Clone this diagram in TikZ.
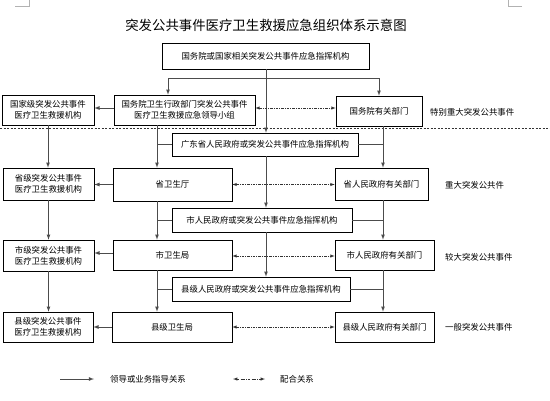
\documentclass[tikz,border=0pt]{standalone}
\usepackage{fontspec}
\setmainfont{Noto Sans CJK SC}
\usetikzlibrary{positioning}

\tikzset{
  box/.style={draw, line width=0.6pt, align=center, inner sep=1pt, font=\fontsize{8.4}{11}\selectfont},
  tag/.style={anchor=west, inner sep=0pt, font=\fontsize{8.4}{11}\selectfont},
  lead/.style={draw=black!70, line width=0.8pt},
  coop/.style={draw=black!80, line width=0.5pt, latex-latex, dash pattern=on 2.5pt off 1.2pt on 0.6pt off 1.2pt},
}

\begin{document}
\begin{tikzpicture}[x=1pt, y=-1pt]
        \useasboundingbox (0,0) rectangle (550,400);

        % page corner marks
        \draw[black!30, line width=0.6pt] (15,6) -- (29,6) -- (29,0);
        \draw[black!30, line width=0.6pt] (522,6) -- (508,6) -- (508,0);

        \node[font=\fontsize{13.4}{16}\selectfont] (title) at (266,25) {突发公共事件医疗卫生救援应急组织体系示意图};

        % national level
        \node[box, minimum width=207pt, minimum height=26pt] (A) at (265.5,56) {国务院或国家相关突发公共事件应急指挥机构};
        \node[box, minimum width=141pt, minimum height=30pt] (B) at (184.5,110) {国务院卫生行政部门突发公共事件\\医疗卫生救援应急领导小组};
        \node[box, minimum width=92pt, minimum height=30pt] (L1) at (48,110) {国家级突发公共事件\\医疗卫生救援机构};
        \node[box, minimum width=86pt, minimum height=30pt] (C) at (379,111) {国务院有关部门};
        \node[tag] (t1) at (430,112) {特别重大突发公共事件};

        \draw[black!80, line width=0.6pt, dash pattern=on 2pt off 1.5pt] (0,128) -- (550,128);

        % province level
        \node[box, minimum width=186pt, minimum height=23pt] (D) at (265,144.5) {广东省人民政府或突发公共事件应急指挥机构};
        \node[box, minimum width=91pt, minimum height=32pt] (L2) at (48.5,184) {省级突发公共事件\\医疗卫生救援机构};
        \node[box, minimum width=119pt, minimum height=33pt] (E) at (172.5,184.5) {省卫生厅};
        \node[box, minimum width=93pt, minimum height=32pt] (F) at (381.5,184) {省人民政府有关部门};
        \node[tag] (t2) at (445,185) {重大突发公共件};

        % city level
        \node[box, minimum width=180pt, minimum height=24pt] (G) at (262,220) {市人民政府或突发公共事件应急指挥机构};
        \node[box, minimum width=91pt, minimum height=31pt] (L3) at (48.5,255.5) {市级突发公共事件\\医疗卫生救援机构};
        \node[box, minimum width=119pt, minimum height=30pt] (H) at (172.5,255) {市卫生局};
        \node[box, minimum width=99pt, minimum height=30pt] (I) at (384.5,255) {市人民政府有关部门};
        \node[tag] (t3) at (445,257) {较大突发公共事件};

        % county level
        \node[box, minimum width=178pt, minimum height=24pt] (J) at (261,289) {县级人民政府或突发公共事件应急指挥机构};
        \node[box, minimum width=90pt, minimum height=30pt] (L4) at (48,327) {县级突发公共事件\\医疗卫生救援机构};
        \node[box, minimum width=120pt, minimum height=30pt] (K) at (172,327) {县级卫生局};
        \node[box, minimum width=99pt, minimum height=30pt] (M) at (384.5,327) {县级人民政府有关部门};
        \node[tag] (t4) at (445,327) {一般突发公共事件};

        % trunks
        \coordinate (bar) at (0,78);
        \coordinate (xm) at (266,0);
        \coordinate (xl) at (157,0);
        \coordinate (xr) at (383,0);

        \draw[lead, -latex] (A.south -| xm) -- (D.north -| xm);
        \draw[lead, -latex] (A.south |- bar) -| ([xshift=-16.5pt]B.north);
        \draw[lead, -latex] (A.south |- bar) -| (C.north);
        \draw[lead, -latex] (D.south -| xm) -- (G.north -| xm);
        \draw[lead, -latex] (G.south -| xm) -- (J.north -| xm);

        \draw[lead, -latex] (B.south -| xl) -- (E.north -| xl);
        \draw[lead, -latex] (E.south -| xl) -- (H.north -| xl);
        \draw[lead, -latex] (H.south -| xl) -- (K.north -| xl);
        \draw[lead] (D.west) -- (D.west -| xl);
        \draw[lead] (G.west) -- (G.west -| xl);
        \draw[lead] (J.west) -- (J.west -| xl);

        \draw[lead, -latex] (C.south -| xr) -- (F.north -| xr);
        \draw[lead, -latex] (F.south -| xr) -- (I.north -| xr);
        \draw[lead, -latex] (I.south -| xr) -- (M.north -| xr);
        \draw[lead] (D.east) -- (D.east -| xr);
        \draw[lead] (G.east) -- (G.east -| xr);
        \draw[lead] (J.east) -- (J.east -| xr);

        \draw[lead, -latex] (L1.south) -- (L2.north -| L1.south);
        \draw[lead, -latex] (L2.south) -- (L3.north -| L2.south);
        \draw[lead, -latex] (L3.south) -- (L4.north -| L3.south);

        \draw[lead, -latex] ([yshift=2pt]B.west) -- ([yshift=2pt]B.west -| L1.east);
        \draw[lead, -latex] (E.west) -- (E.west -| L2.east);
        \draw[lead, -latex] ([yshift=2pt]H.west) -- ([yshift=2pt]H.west -| L3.east);
        \draw[lead, -latex] (K.west) -- (K.west -| L4.east);

        \draw[coop] ([yshift=2pt]B.east) -- ([yshift=2pt]B.east -| C.west);
        \draw[coop] (E.east) -- (E.east -| F.west);
        \draw[coop] ([yshift=-1pt]H.east) -- ([yshift=-1pt]H.east -| I.west);
        \draw[coop] (K.east) -- (K.east -| M.west);

        % legend
        \coordinate (k1) at (60,379);
        \coordinate (k2) at (94,379);
        \node[tag] (k1t) at (110,379) {领导或业务指导关系};
        \coordinate (k3) at (233,379);
        \coordinate (k4) at (265,379);
        \node[tag] (k2t) at (280,379) {配合关系};
        \draw[lead, -latex] (k1) -- (k2);
        \draw[coop] (k3) -- (k4);
    \end{tikzpicture}
\end{document}
